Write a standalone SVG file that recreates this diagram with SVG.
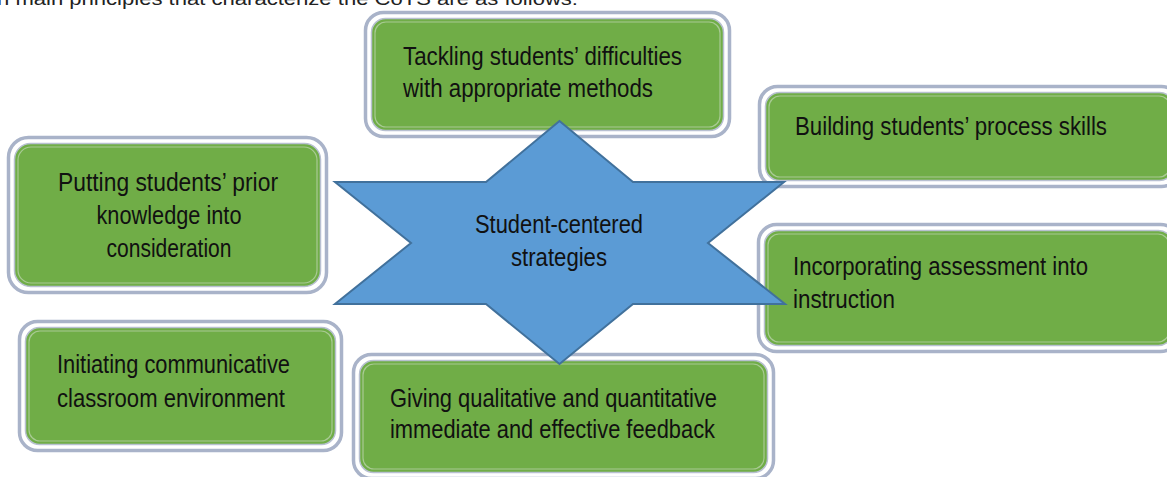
<svg xmlns="http://www.w3.org/2000/svg" width="1167" height="477" viewBox="0 0 1167 477">
  <style>
    .ring { fill: #ffffff; stroke: #a9b3c9; stroke-width: 3.5; }
    .body { fill: #70ad47; stroke: #b8c0d1; stroke-width: 1.5; }
    .inset { fill: none; stroke: #a8ca93; stroke-width: 1.2; }
    .label { font-family: "Liberation Sans", Arial, sans-serif; font-size: 25px; fill: #111111; }
    .mid { text-anchor: middle; }
    .star { fill: #5b9bd5; stroke: #41719c; stroke-width: 2; stroke-linejoin: miter; }
    .caption { font-family: "Liberation Sans", Arial, sans-serif; font-size: 18px; fill: #222222; }
  </style>

  <rect width="1167" height="477" fill="#ffffff"/>

  <!-- running text line above the figure, cut off by the page edge -->
  <text class="caption" x="-3" y="4.5" textLength="581" lengthAdjust="spacingAndGlyphs">n main principles that characterize the CoTS are as follows:</text>

  <!-- Tackling difficulties -->
  <g id="node-tackling">
    <rect class="ring" x="365.5" y="12.5" width="364" height="124" rx="18"/>
    <rect class="body" x="371.5" y="18.5" width="352" height="112" rx="14"/>
    <rect class="inset" x="375" y="22" width="345" height="105" rx="11"/>
    <text class="label" x="403" y="65" textLength="279" lengthAdjust="spacingAndGlyphs">Tackling students’ difficulties</text>
    <text class="label" x="403" y="97" textLength="250" lengthAdjust="spacingAndGlyphs">with appropriate methods</text>
  </g>

  <!-- Prior knowledge -->
  <g id="node-prior">
    <rect class="ring" x="8.5" y="137.5" width="318" height="155" rx="20"/>
    <rect class="body" x="14.5" y="143.5" width="306" height="143" rx="16"/>
    <rect class="inset" x="18" y="147" width="299" height="136" rx="13"/>
    <text class="label mid" x="168" y="191" textLength="220" lengthAdjust="spacingAndGlyphs">Putting students’ prior</text>
    <text class="label mid" x="169" y="224" textLength="145" lengthAdjust="spacingAndGlyphs">knowledge into</text>
    <text class="label mid" x="169" y="257" textLength="125" lengthAdjust="spacingAndGlyphs">consideration</text>
  </g>

  <!-- Process skills -->
  <g id="node-process">
    <rect class="ring" x="759.5" y="86.5" width="420" height="100" rx="18"/>
    <rect class="body" x="765.5" y="92.5" width="408" height="88" rx="14"/>
    <rect class="inset" x="769" y="96" width="401" height="81" rx="11"/>
    <text class="label" x="795" y="135" textLength="312" lengthAdjust="spacingAndGlyphs">Building students’ process skills</text>
  </g>

  <!-- Assessment -->
  <g id="node-assessment">
    <rect class="ring" x="758.5" y="224.5" width="420" height="127" rx="18"/>
    <rect class="body" x="764.5" y="230.5" width="408" height="115" rx="14"/>
    <rect class="inset" x="768" y="234" width="401" height="108" rx="11"/>
    <text class="label" x="793" y="275" textLength="295" lengthAdjust="spacingAndGlyphs">Incorporating assessment into</text>
    <text class="label" x="793" y="308" textLength="102" lengthAdjust="spacingAndGlyphs">instruction</text>
  </g>

  <!-- Communicative environment -->
  <g id="node-communicative">
    <rect class="ring" x="19.5" y="321.5" width="322" height="129" rx="18"/>
    <rect class="body" x="25.5" y="327.5" width="310" height="117" rx="14"/>
    <rect class="inset" x="29" y="331" width="303" height="110" rx="11"/>
    <text class="label" x="57" y="373" textLength="233" lengthAdjust="spacingAndGlyphs">Initiating communicative</text>
    <text class="label" x="57" y="407" textLength="228" lengthAdjust="spacingAndGlyphs">classroom environment</text>
  </g>

  <!-- Feedback -->
  <g id="node-feedback">
    <rect class="ring" x="353.5" y="354.5" width="420" height="124" rx="18"/>
    <rect class="body" x="359.5" y="360.5" width="408" height="112" rx="14"/>
    <rect class="inset" x="363" y="364" width="401" height="105" rx="11"/>
    <text class="label" x="390" y="407" textLength="327" lengthAdjust="spacingAndGlyphs">Giving qualitative and quantitative</text>
    <text class="label" x="390" y="438" textLength="325" lengthAdjust="spacingAndGlyphs">immediate and effective feedback</text>
  </g>

  <!-- no connecting lines: the central star overlaps the surrounding boxes -->
  <g id="connectors"></g>

  <!-- central six-pointed star -->
  <g id="node-center">
    <polygon class="star" points="559.5,121 486,182 335,182 411,243 335,304 486,304 559.5,364 633,304 785,304 708,243 784,182 633,182"/>
    <text class="label mid" x="559" y="233" textLength="168" lengthAdjust="spacingAndGlyphs">Student-centered</text>
    <text class="label mid" x="559" y="266" textLength="96" lengthAdjust="spacingAndGlyphs">strategies</text>
  </g>
</svg>
